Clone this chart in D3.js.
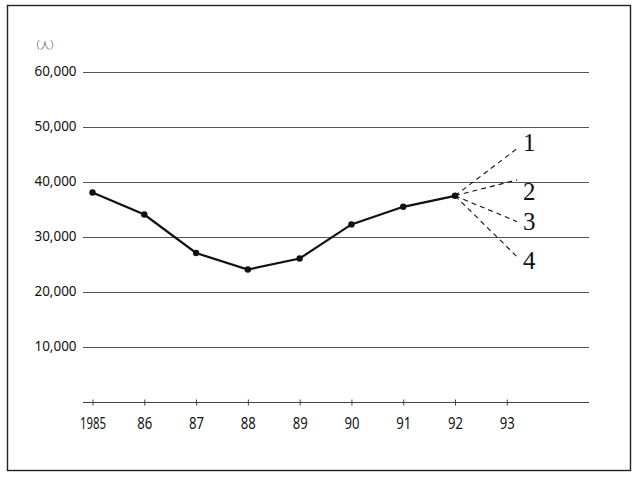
<!DOCTYPE html>
<html><head><meta charset="utf-8">
<script src="https://cdn.jsdelivr.net/npm/d3@7/dist/d3.min.js"></script>
<style>body{margin:0;background:#fff}</style>
</head><body>
<svg id="c" width="640" height="480"></svg>
<script>
const years = [1985, 1986, 1987, 1988, 1989, 1990, 1991, 1992];
const values = [38000, 34000, 27000, 24000, 26000, 32200, 35400, 37400];
const xTickYears = [1985, 1986, 1987, 1988, 1989, 1990, 1991, 1992, 1993];
const xTickLabels = ["1985", "86", "87", "88", "89", "90", "91", "92", "93"];
const yTicks = [10000, 20000, 30000, 40000, 50000, 60000];
const yTickLabels = ["10,000", "20,000", "30,000", "40,000", "50,000", "60,000"];
const scenarioNames = ["1", "2", "3", "4"];
const scenarioEndYear = 1993.2;
const scenarioEndValues = [46000, 40300, 32700, 26300];
const unitLabel = "（人）";

const svg = d3.select("#c");
const x = d3.scaleLinear().domain([1985, 1992]).range([92.5, 455]);
const y = d3.scaleLinear().domain([0, 60000]).range([401.5, 71.5]);

svg.append("rect").attr("x", 7.5).attr("y", 5.5).attr("width", 623).attr("height", 465)
  .attr("fill", "none").attr("stroke", "#222").attr("stroke-width", 1.4);

const gridL = 83, gridR = 589;
svg.append("g").selectAll("line").data(yTicks).join("line")
  .attr("x1", gridL).attr("x2", gridR)
  .attr("y1", d => Math.round(y(d)) + 0.5).attr("y2", d => Math.round(y(d)) + 0.5)
  .attr("stroke", "#555").attr("stroke-width", 1);

svg.append("g").selectAll("text").data(yTicks).join("text")
  .attr("x", 76.5).attr("y", d => y(d) + 4.7)
  .attr("text-anchor", "end")
  .attr("font-family", "'Noto Sans', 'DejaVu Sans', sans-serif")
  .attr("font-size", 14).attr("fill", "#111")
  .attr("textLength", 42).attr("lengthAdjust", "spacingAndGlyphs")
  .text((d, i) => yTickLabels[i]);

svg.append("text").attr("x", 30).attr("y", 49)
  .attr("font-family", "'Noto Sans CJK JP', sans-serif")
  .attr("font-size", 10).attr("fill", "#777").text(unitLabel);

const xAxis = d3.axisBottom(x).tickValues(xTickYears).tickSize(3).tickFormat((d, i) => xTickLabels[i]);
const gx = svg.append("g").attr("transform", "translate(0,402.5)").call(xAxis);
gx.select(".domain").remove();
gx.insert("line", ":first-child").attr("x1", gridL).attr("x2", gridR).attr("y1", 0).attr("y2", 0)
  .attr("stroke", "#444");
gx.selectAll(".tick line").attr("y1", -3).attr("y2", 3).attr("stroke", "#444");
gx.selectAll(".tick text").attr("y", 26.5).attr("dy", null)
  .attr("font-family", "'Noto Sans', 'DejaVu Sans', sans-serif")
  .attr("font-size", 16).attr("fill", "#111")
  .attr("textLength", (d, i) => xTickLabels[i].length === 4 ? 26 : 15)
  .attr("lengthAdjust", "spacingAndGlyphs");

const lastX = x(years[years.length - 1]), lastY = y(values[values.length - 1]);
svg.append("g").selectAll("line").data(scenarioEndValues).join("line")
  .attr("x1", lastX).attr("y1", lastY)
  .attr("x2", x(scenarioEndYear)).attr("y2", d => y(d))
  .attr("stroke", "#111").attr("stroke-width", 1.1).attr("stroke-dasharray", "5,4");

const labelOffsets = [-6, 12, 0, 4];
svg.append("g").selectAll("text").data(scenarioEndValues).join("text")
  .attr("x", x(scenarioEndYear) + 12).attr("y", (d, i) => y(d) + 8 + labelOffsets[i])
  .attr("text-anchor", "middle")
  .attr("font-family", "'Liberation Serif', 'DejaVu Serif', serif")
  .attr("font-size", 25).attr("fill", "#111")
  .text((d, i) => scenarioNames[i]);

const line = d3.line().x((d, i) => x(years[i])).y(d => y(d));
svg.append("path").datum(values).attr("d", line)
  .attr("fill", "none").attr("stroke", "#111").attr("stroke-width", 2.2);
svg.append("g").selectAll("circle").data(values).join("circle")
  .attr("cx", (d, i) => x(years[i])).attr("cy", d => y(d)).attr("r", 3.2).attr("fill", "#111");
</script>
</body></html>
